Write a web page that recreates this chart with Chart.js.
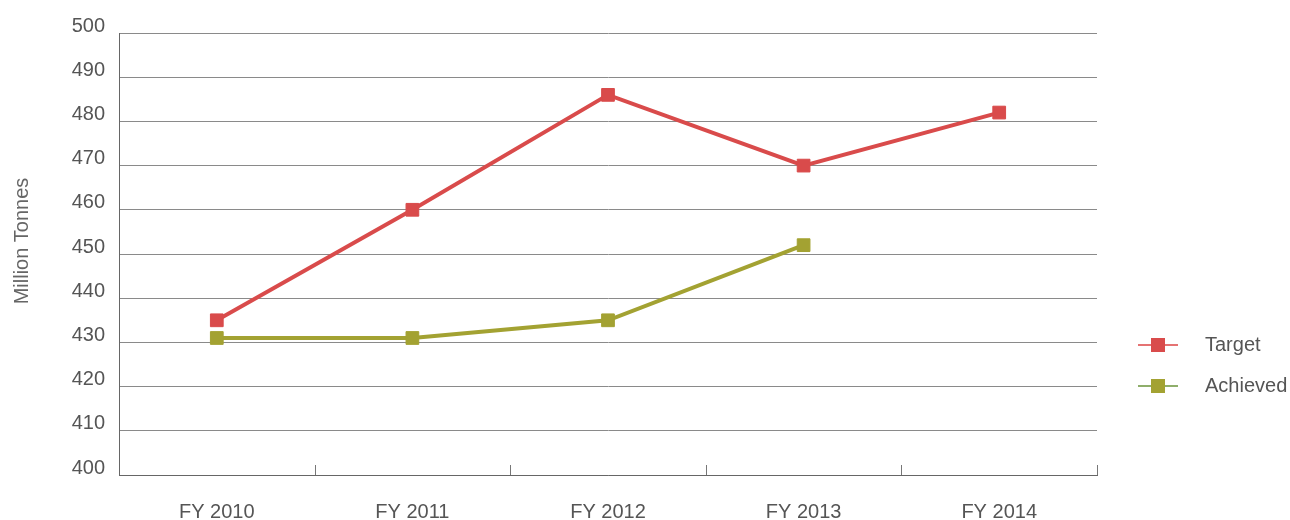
<!DOCTYPE html>
<html>
<head>
<meta charset="utf-8">
<script src="https://cdn.jsdelivr.net/npm/chart.js@4"></script>
<style>
  html, body { margin: 0; padding: 0; background: #fff; }
  #wrap { width: 1290px; height: 520px; }
</style>
</head>
<body>
<div id="wrap"><canvas id="tonnesChart" width="1290" height="520"></canvas></div>
<script>
const years = ['FY 2010', 'FY 2011', 'FY 2012', 'FY 2013', 'FY 2014'];
const targetValues = [435, 460, 486, 470, 482];
const achievedValues = [431, 431, 435, 452, null];
const yTicks = [400, 410, 420, 430, 440, 450, 460, 470, 480, 490, 500];

const FONT = '"Liberation Sans", Arial, Helvetica, sans-serif';

// small upward tick marks between categories on the x axis
const categoryTicks = {
  id: 'categoryTicks',
  afterDatasetsDraw(chart) {
    const { ctx, chartArea, scales: { x } } = chart;
    const step = x.getPixelForValue(1) - x.getPixelForValue(0);
    ctx.save();
    ctx.strokeStyle = '#777';
    ctx.lineWidth = 1;
    for (let i = 1; i <= years.length; i++) {
      const px = Math.round(x.getPixelForValue(i) - step / 2) + 0.5;
      ctx.beginPath();
      ctx.moveTo(px, chartArea.bottom);
      ctx.lineTo(px, chartArea.bottom - 10);
      ctx.stroke();
    }
    ctx.restore();
  }
};

// y axis title, sits a bit above the middle of the plot
const yTitle = {
  id: 'yTitle',
  afterDraw(chart) {
    const { ctx } = chart;
    ctx.save();
    ctx.translate(22, 241);
    ctx.rotate(-Math.PI / 2);
    ctx.fillStyle = '#666';
    ctx.font = '20px ' + FONT;
    ctx.textAlign = 'center';
    ctx.textBaseline = 'middle';
    ctx.fillText('Million Tonnes', 0, 0);
    ctx.restore();
  }
};

// legend on the right: short line with a square marker
const sideLegend = {
  id: 'sideLegend',
  afterDraw(chart) {
    const { ctx } = chart;
    const items = [
      { label: 'Target', line: '#e57373', fill: '#d94b4b', y: 345 },
      { label: 'Achieved', line: '#8fae6b', fill: '#a3a232', y: 386 }
    ];
    ctx.save();
    items.forEach(it => {
      ctx.strokeStyle = it.line;
      ctx.lineWidth = 2;
      ctx.beginPath();
      ctx.moveTo(1138, it.y);
      ctx.lineTo(1178, it.y);
      ctx.stroke();
      ctx.fillStyle = it.fill;
      ctx.fillRect(1151, it.y - 7, 14, 14);
      ctx.fillStyle = '#555';
      ctx.font = '20px ' + FONT;
      ctx.textBaseline = 'middle';
      ctx.fillText(it.label, 1205, it.y);
    });
    ctx.restore();
  }
};

const ctx = document.getElementById('tonnesChart').getContext('2d');
new Chart(ctx, {
  type: 'line',
  data: {
    labels: years,
    datasets: [
      {
        label: 'Target',
        data: targetValues,
        borderColor: '#d94b4b',
        backgroundColor: '#d94b4b',
        borderWidth: 4,
        pointStyle: 'rect',
        pointRadius: 9,
        pointBorderWidth: 1,
        tension: 0,
        fill: false
      },
      {
        label: 'Achieved',
        data: achievedValues,
        borderColor: '#a3a232',
        backgroundColor: '#a3a232',
        borderWidth: 4,
        pointStyle: 'rect',
        pointRadius: 9,
        pointBorderWidth: 1,
        tension: 0,
        fill: false,
        spanGaps: false
      }
    ]
  },
  options: {
    responsive: false,
    animation: false,
    layout: { padding: { top: 33, right: 193, left: 0, bottom: 0 } },
    plugins: {
      legend: { display: false },
      tooltip: { enabled: false }
    },
    scales: {
      x: {
        offset: true,
        afterFit: s => { s.height = 45; },
        grid: { display: false, drawTicks: false },
        border: { display: true, color: '#666', width: 1 },
        ticks: { color: '#555', font: { family: FONT, size: 20 }, padding: 25 }
      },
      y: {
        min: 400,
        max: 500,
        afterFit: s => { s.width = 119; },
        afterBuildTicks: s => { s.ticks = yTicks.map(v => ({ value: v })); },
        grid: { color: '#8a8a8a', lineWidth: 1, drawTicks: false },
        border: { display: true, color: '#666', width: 1 },
        ticks: { color: '#555', font: { family: FONT, size: 20 }, padding: 14, labelOffset: -7 }
      }
    }
  },
  plugins: [categoryTicks, yTitle, sideLegend]
});
</script>
</body>
</html>
